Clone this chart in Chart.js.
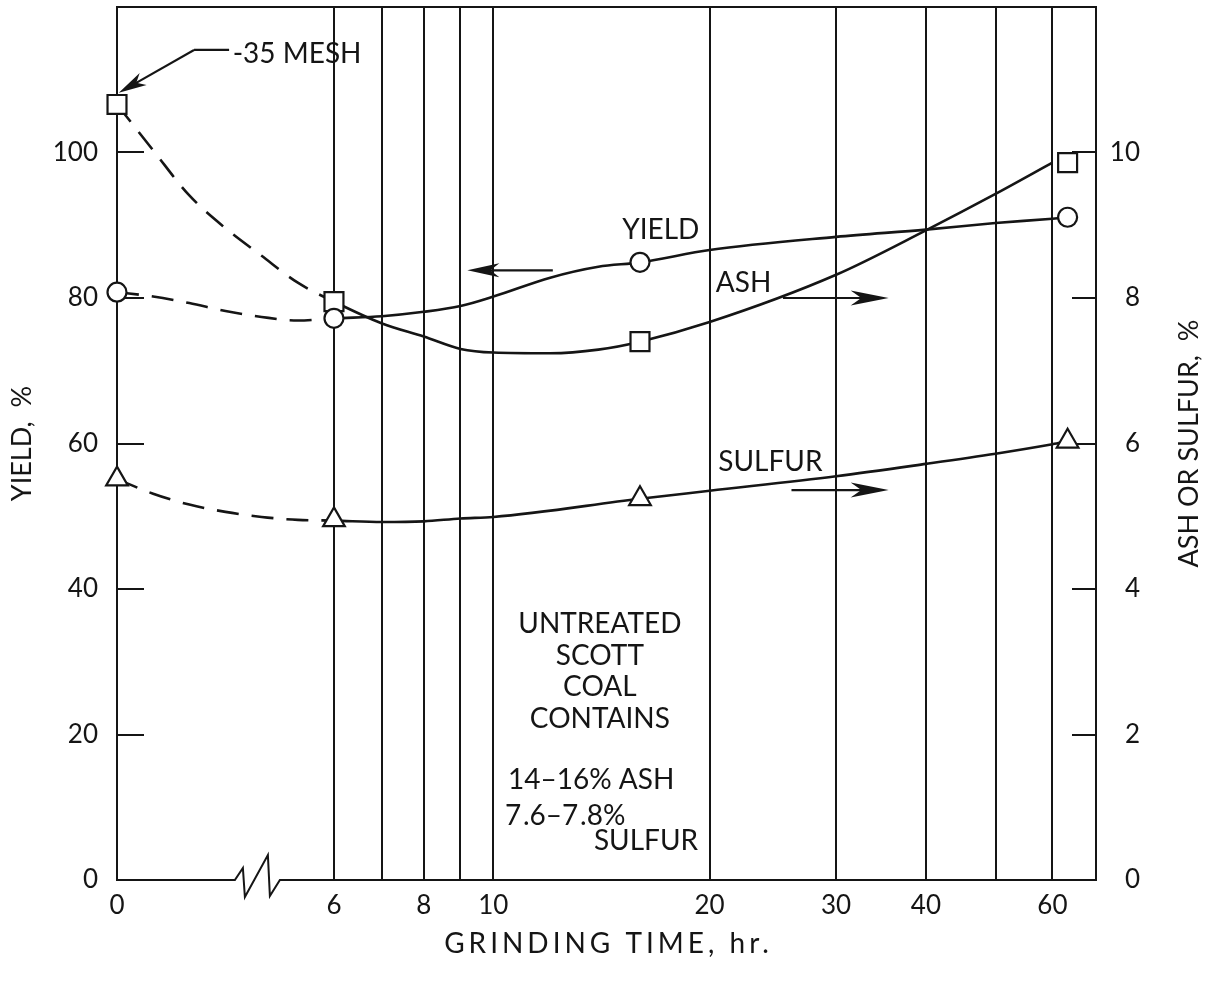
<!DOCTYPE html>
<html>
<head>
<meta charset="utf-8">
<script src="https://cdn.jsdelivr.net/npm/chart.js@4.4.1/dist/chart.umd.min.js"></script>
<style>
  html, body { margin: 0; padding: 0; background: #fff; }
  #wrap { width: 1212px; height: 990px; }
</style>
</head>
<body>
<div id="wrap"><canvas id="grindChart" width="1212" height="990"></canvas></div>
<script>
// time axis: vertical rules and their labels (hours)
const gridHours = [0, 6, 7, 8, 9, 10, 20, 30, 40, 50, 60];
const xTickLabels = ['0', '6', '', '8', '', '10', '20', '30', '40', '', '60'];
const yieldTicks = [0, 20, 40, 60, 80, 100];
const ashTicks = [0, 2, 4, 6, 8, 10];

// measured points
const pointHours = [0, 6, 16, 63];
const yieldPts = [80.8, 77.2, 84.9, 91.1];
const ashPts = [10.66, 7.95, 7.40, 9.86];
const sulfurPts = [5.51, 4.95, 5.24, 6.03];

// faired curves (0-6 hr is the dashed part across the break)
const yieldCurveHours = [0, 1, 2, 3, 4, 5, 6, 7, 8, 9, 10, 12, 14, 16, 20, 30, 40, 50, 60, 63];
const yieldCurve = [80.8, 80.2, 79.3, 78.2, 77.4, 76.9, 77.2, 77.5, 78.1, 78.9, 80.2, 82.8, 84.3, 84.9, 86.6, 88.4, 89.4, 90.3, 90.9, 91.1];
const ashCurveHours = [0, 1, 2, 3, 4, 5, 6, 7, 8, 9, 10, 12, 14, 16, 20, 30, 40, 50, 60];
const ashCurve = [10.66, 10.03, 9.41, 8.96, 8.58, 8.21, 7.95, 7.65, 7.47, 7.30, 7.25, 7.24, 7.29, 7.40, 7.67, 8.32, 8.93, 9.43, 9.86];
const sulfurCurveHours = [0, 1, 2, 3, 4, 5, 6, 7, 8, 9, 10, 16, 20, 30, 40, 50, 60, 63];
const sulfurCurve = [5.51, 5.31, 5.16, 5.06, 4.99, 4.95, 4.94, 4.92, 4.93, 4.97, 4.99, 5.24, 5.35, 5.55, 5.72, 5.86, 5.99, 6.03];

// log axis from 6 hr on; the 0-6 hr stretch is squeezed into a fixed piece before the break
const LOG6 = Math.log10(6);
const BREAK_SPAN = 0.302;
const X_MAX_HOURS = 69;
function toPos(h) {
  return h >= 6 ? Math.log10(h) : LOG6 - BREAK_SPAN + (h / 6) * BREAK_SPAN;
}
function pts(hours, vals) {
  return hours.map((h, i) => ({ x: toPos(h), y: vals[i] }));
}

const ink = '#151515';
const face = 'Lato, "Open Sans", sans-serif';
Chart.defaults.font.family = face;
Chart.defaults.color = ink;

const dashed = ctx => (ctx.p1.parsed.x <= LOG6 + 1e-9 ? [22, 13] : undefined);

function curve(hours, vals, axis) {
  return {
    data: pts(hours, vals), yAxisID: axis,
    borderColor: ink, borderWidth: 2.6, pointRadius: 0,
    cubicInterpolationMode: 'monotone',
    fill: false, clip: false, order: 2,
    segment: { borderDash: dashed }
  };
}
function markers(vals, style, radius, axis) {
  return {
    data: pts(pointHours, vals), yAxisID: axis, showLine: false,
    pointStyle: style, pointRadius: radius,
    pointBackgroundColor: '#fff', pointBorderColor: ink, pointBorderWidth: 2.2,
    clip: false, order: 1
  };
}

function arrow(ctx, a, b, len, half) {
  const ang = Math.atan2(b.y - a.y, b.x - a.x);
  const c = Math.cos(ang), s = Math.sin(ang);
  ctx.beginPath();
  ctx.moveTo(a.x, a.y);
  ctx.lineTo(b.x - c * len * 0.7, b.y - s * len * 0.7);
  ctx.stroke();
  ctx.beginPath();
  ctx.moveTo(b.x, b.y);
  ctx.lineTo(b.x - c * len + s * half, b.y - s * len - c * half);
  ctx.lineTo(b.x - c * len * 0.72, b.y - s * len * 0.72);
  ctx.lineTo(b.x - c * len - s * half, b.y - s * len + c * half);
  ctx.closePath();
  ctx.fill();
}

// keep the plot box where the figure has it: no label overhang reserved
function noOverhang(s) {
  s.paddingTop = 0; s.paddingBottom = 0; s.paddingLeft = 0; s.paddingRight = 0;
}

const figureDecor = {
  id: 'figureDecor',
  beforeDatasetsDraw(chart) {
    const { ctx, chartArea: a, scales } = chart;
    const px = h => scales.x.getPixelForValue(toPos(h));
    ctx.save();
    ctx.strokeStyle = ink;
    ctx.lineWidth = 2;
    // top of the frame
    ctx.beginPath();
    ctx.moveTo(a.left - 1, a.top);
    ctx.lineTo(a.right + 1, a.top);
    ctx.stroke();
    // time axis with the break mark
    const b = px(3.26), y = a.bottom;
    ctx.beginPath();
    ctx.moveTo(a.left - 1, y);
    ctx.lineTo(b, y);
    ctx.lineTo(b + 8, y - 12);
    ctx.lineTo(b + 10, y + 17);
    ctx.lineTo(b + 33, y - 25);
    ctx.lineTo(b + 35, y + 16);
    ctx.lineTo(b + 45, y);
    ctx.lineTo(a.right + 1, y);
    ctx.stroke();
    // inward tick marks
    yieldTicks.slice(1).forEach(v => {
      const ty = Math.round(scales.y.getPixelForValue(v));
      ctx.beginPath(); ctx.moveTo(a.left, ty); ctx.lineTo(a.left + 27, ty); ctx.stroke();
    });
    ashTicks.slice(1).forEach(v => {
      const ty = Math.round(scales.y2.getPixelForValue(v));
      ctx.beginPath(); ctx.moveTo(a.right - 24, ty); ctx.lineTo(a.right, ty); ctx.stroke();
    });
    ctx.restore();
  },
  afterDraw(chart) {
    const { ctx, chartArea: a, scales } = chart;
    const at = (h, v) => ({ x: scales.x.getPixelForValue(toPos(h)), y: scales.y.getPixelForValue(v) });
    ctx.save();
    ctx.fillStyle = ink;
    ctx.strokeStyle = ink;
    ctx.lineWidth = 2.2;

    // right axis title, reading upward
    ctx.save();
    ctx.translate(1189, (a.top + a.bottom) / 2);
    ctx.rotate(-Math.PI / 2);
    ctx.font = '27px ' + face;
    ctx.textAlign = 'center';
    ctx.textBaseline = 'middle';
    ctx.fillText('ASH OR SULFUR,  %', 0, 0);
    ctx.restore();

    // time axis title, spaced out like the original lettering
    ctx.save();
    ctx.font = '28px ' + face;
    ctx.letterSpacing = '4px';
    ctx.textAlign = 'center';
    ctx.textBaseline = 'middle';
    ctx.fillText('GRINDING TIME, hr.', (a.left + a.right) / 2 + 2, 944);
    ctx.restore();

    ctx.font = '28px ' + face;
    ctx.textBaseline = 'middle';
    ctx.textAlign = 'center';
    let p = at(17.1, 89.3); ctx.fillText('YIELD', p.x, p.y);
    p = at(22.3, 82.1); ctx.fillText('ASH', p.x, p.y);
    p = at(24.3, 57.5); ctx.fillText('SULFUR', p.x, p.y);
    ctx.textAlign = 'left';
    p = at(3.2, 113.5); ctx.fillText('-35 MESH', p.x, p.y);

    arrow(ctx, at(12.1, 83.8), at(9.2, 83.8), 32, 7);
    arrow(ctx, at(25.3, 80.0), at(35.5, 80.0), 38, 7.5);
    arrow(ctx, at(26.0, 53.6), at(35.5, 53.6), 38, 7.5);
    // leader from the -35 MESH label
    const l0 = at(3.1, 114.1), l1 = at(2.13, 114.1);
    ctx.beginPath(); ctx.moveTo(l0.x, l0.y); ctx.lineTo(l1.x, l1.y); ctx.stroke();
    arrow(ctx, l1, at(0.05, 108.2), 28, 7);

    // note block
    ctx.textBaseline = 'alphabetic';
    ctx.textAlign = 'center';
    [['UNTREATED', 33.95], ['SCOTT', 29.55], ['COAL', 25.3], ['CONTAINS', 20.9]].forEach(([t, v]) => {
      const q = at(14.07, v); ctx.fillText(t, q.x, q.y);
    });
    ctx.textAlign = 'left';
    p = at(10.48, 12.5); ctx.fillText('14\u201316% ASH', p.x, p.y);
    p = at(10.38, 7.6); ctx.fillText('7\u200a.6\u20137\u200a.8%', p.x, p.y);
    ctx.textAlign = 'right';
    p = at(19.27, 4.1); ctx.fillText('SULFUR', p.x, p.y);
    ctx.restore();
  }
};

new Chart(document.getElementById('grindChart'), {
  type: 'line',
  data: {
    datasets: [
      curve(yieldCurveHours, yieldCurve, 'y'),
      curve(ashCurveHours, ashCurve, 'y2'),
      curve(sulfurCurveHours, sulfurCurve, 'y2'),
      markers(yieldPts, 'circle', 9.5, 'y'),
      markers(ashPts, 'rect', 13.4, 'y2'),
      markers(sulfurPts, 'triangle', 12.5, 'y2')
    ]
  },
  options: {
    responsive: false,
    animation: false,
    layout: { autoPadding: false, padding: { top: 7, right: 72, left: 0, bottom: 0 } },
    plugins: { legend: { display: false }, tooltip: { enabled: false } },
    scales: {
      x: {
        type: 'linear',
        min: toPos(0),
        max: Math.log10(X_MAX_HOURS),
        afterBuildTicks: s => { s.ticks = gridHours.map(h => ({ value: toPos(h) })); },
        afterFit: s => { s.height = 110; noOverhang(s); },
        grid: { color: c => (c.index === 0 ? 'rgba(0,0,0,0)' : ink), lineWidth: 2, drawTicks: false },
        border: { display: false },
        ticks: { callback: (v, i) => xTickLabels[i], autoSkip: false, maxRotation: 0, padding: 10, font: { size: 26 } }
      },
      y: {
        position: 'left',
        min: 0, max: 120,
        afterBuildTicks: s => { s.ticks = yieldTicks.map(v => ({ value: v })); },
        afterFit: s => { s.width = 117; noOverhang(s); },
        grid: { display: false, drawTicks: false },
        border: { display: true, color: ink, width: 2 },
        ticks: { padding: 19, font: { size: 26 } },
        title: { display: true, text: 'YIELD,  %', font: { size: 27 }, padding: { top: 6, bottom: 0 } }
      },
      y2: {
        position: 'right',
        min: 0, max: 12,
        afterBuildTicks: s => { s.ticks = ashTicks.map(v => ({ value: v })); },
        afterFit: s => { s.width = 44; noOverhang(s); },
        grid: { display: false, drawTicks: false },
        border: { display: true, color: ink, width: 2 },
        ticks: { crossAlign: 'far', font: { size: 26 } }
      }
    }
  },
  plugins: [figureDecor]
});
</script>
</body>
</html>
